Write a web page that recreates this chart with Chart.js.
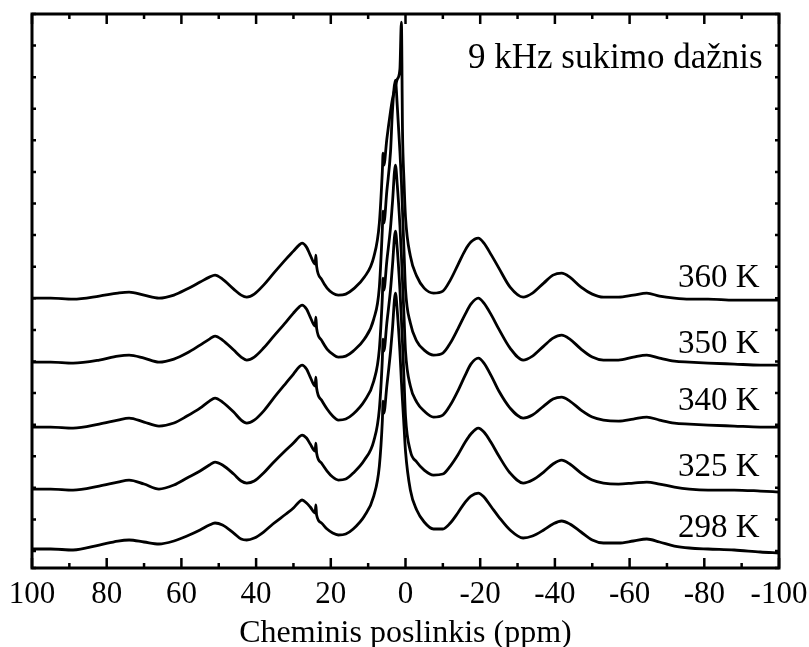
<!DOCTYPE html>
<html>
<head>
<meta charset="utf-8">
<script src="https://cdn.jsdelivr.net/npm/chart.js@4.4.0/dist/chart.umd.min.js"></script>
<style>
  html, body { margin: 0; padding: 0; background: #fff; }
</style>
</head>
<body>
<canvas id="nmr_chart" width="809" height="647"></canvas>
<script>
// chemical shift grid (ppm), shared by all spectra
const shifts = [100, 95, 89, 82, 77, 74, 70, 66, 62, 58.5,
  55, 52.5, 51, 49, 46, 44, 42.5, 40.5, 38, 35.5,
  32, 30, 28.5, 27.7, 26.5, 25.5, 24.2, 24, 23.8, 22.5,
  21, 19.5, 18, 16, 14, 11, 8.5, 7, 6.2, 6,
  5.8, 5, 4, 3.5, 2.7, 2.2, 1.5, 1.1, 0.8, 0.4,
  0, -1.3, -3, -5, -7.5, -10, -12, -14, -16, -17.5,
  -19.5, -21, -23, -25, -28, -31.5, -34, -37, -39.5, -41.8,
  -44, -47, -50, -53, -57, -61, -64.6, -68, -72, -76,
  -81, -88, -95, -100];

// intensities (a.u.), already stacked
const s298 = [2, 2, 1, 6, 10, 11, 9, 7, 10, 15,
  21, 26, 28, 26, 18, 12, 11, 13, 19, 27,
  37, 43, 49, 51, 48, 44, 38, 46, 36, 28,
  22, 18, 16, 17, 22, 35, 55, 85, 130, 150,
  138, 165, 200, 222, 258, 240, 200, 170, 150, 125,
  100, 61, 41, 29, 22, 22, 28, 38, 49, 55,
  58, 54, 44, 34, 21, 13, 15, 21, 27, 30,
  27, 19, 11, 8, 8, 10, 12, 9, 5, 3,
  2, 1, -1, -2];
const s325 = [62, 62, 61, 65, 69, 71, 67, 62, 66, 73,
  80, 86, 89, 86, 77, 70, 68, 70, 78, 88,
  101, 108, 114, 116, 113, 107, 100, 108, 98, 88,
  80, 74, 71, 72, 78, 91, 110, 142, 192, 212,
  200, 228, 262, 285, 320, 302, 262, 232, 208, 172,
  135, 100, 89, 81, 76, 77, 85, 96, 109, 117,
  123, 119, 108, 95, 78, 68, 71, 79, 87, 91,
  87, 78, 71, 68, 67, 68, 69, 67, 64, 62,
  61, 61, 60, 59];
const s340 = [124, 124, 123, 127, 131, 133, 129, 125, 128, 135,
  143, 150, 153, 149, 139, 131, 128, 131, 140, 152,
  168, 177, 184, 186, 182, 174, 165, 174, 163, 151,
  142, 135, 131, 132, 137, 150, 170, 202, 254, 273,
  261, 290, 324, 348, 386, 366, 326, 296, 270, 235,
  200, 165, 149, 140, 134, 136, 146, 160, 176, 187,
  193, 188, 175, 160, 143, 133, 136, 145, 152, 154,
  150, 141, 134, 131, 130, 132, 134, 131, 128, 127,
  126, 125, 124, 124];
const s350 = [189, 189, 188, 191, 195, 196, 193, 189, 192, 198,
  206, 212, 215, 211, 201, 194, 191, 194, 203, 214,
  229, 238, 244, 246, 242, 234, 225, 234, 223, 211,
  202, 197, 194, 195, 200, 212, 232, 264, 322, 340,
  328, 360, 400, 440, 471, 445, 400, 370, 340, 300,
  262, 228, 210, 201, 196, 198, 208, 222, 237, 247,
  253, 248, 236, 222, 203, 191, 195, 205, 213, 216,
  212, 202, 194, 191, 191, 194, 196, 193, 190, 189,
  188, 187, 186, 186];
const s360 = [253, 253, 252, 255, 258, 259, 256, 253, 256, 262,
  269, 274, 276, 272, 262, 256, 254, 257, 266, 277,
  292, 300, 306, 308, 304, 296, 287, 296, 285, 272,
  263, 258, 256, 257, 262, 274, 294, 328, 380, 398,
  386, 412, 440, 452, 465, 472, 482, 529, 420, 370,
  334, 295, 275, 263, 258, 260, 271, 286, 301, 309,
  313, 308, 296, 283, 264, 254, 258, 268, 276, 278,
  274, 264, 257, 254, 254, 256, 258, 255, 253, 252,
  252, 251, 251, 251];

const spectra = [s298, s325, s340, s350, s360];
const temps = ["298 K", "325 K", "340 K", "350 K", "360 K"];
const tempLabelY = [14, 75, 141, 198, 264];
const tempLabelX = -94.8;
const note = "9 kHz sukimo dažnis";
const noteX = -95.6, noteY = 483;

const xMajor = [100, 80, 60, 40, 20, 0, -20, -40, -60, -80, -100];
const xMinor = [90, 70, 50, 30, 10, -10, -30, -50, -70, -90];

const serif = "'Liberation Serif', 'Times New Roman', serif";

const frameTicks = {
    id: "frameTicks",
    afterDraw(chart) {
        const {ctx, chartArea: a, scales: {x, y}} = chart;
        ctx.save();
        ctx.strokeStyle = "#000";
        ctx.lineWidth = 3;
        ctx.strokeRect(a.left, a.top, a.right - a.left, a.bottom - a.top);
        ctx.lineWidth = 2.5;
        ctx.beginPath();
        xMajor.forEach(v => {
            const px = x.getPixelForValue(v);
            ctx.moveTo(px, a.bottom); ctx.lineTo(px, a.bottom - 10);
            ctx.moveTo(px, a.top); ctx.lineTo(px, a.top + 10);
        });
        xMinor.forEach(v => {
            const px = x.getPixelForValue(v);
            ctx.moveTo(px, a.bottom); ctx.lineTo(px, a.bottom - 5);
            ctx.moveTo(px, a.top); ctx.lineTo(px, a.top + 5);
        });
        y.ticks.forEach(t => {
            const py = y.getPixelForValue(t.value);
            ctx.moveTo(a.left, py); ctx.lineTo(a.left + 4, py);
            ctx.moveTo(a.right, py); ctx.lineTo(a.right - 4, py);
        });
        ctx.stroke();

        ctx.fillStyle = "#000";
        ctx.textAlign = "right";
        ctx.textBaseline = "alphabetic";
        ctx.font = "33px " + serif;
        temps.forEach((t, i) => {
            ctx.fillText(t, x.getPixelForValue(tempLabelX), y.getPixelForValue(tempLabelY[i]));
        });
        ctx.font = "35px " + serif;
        ctx.fillText(note, x.getPixelForValue(noteX), y.getPixelForValue(noteY));
        ctx.restore();
    }
};

new Chart(document.getElementById("nmr_chart"), {
    type: "line",
    data: {
        datasets: spectra.map((s, i) => ({
            label: temps[i],
            data: shifts.map((v, k) => ({x: v, y: s[k]})),
            borderColor: "#000",
            borderWidth: 2.8,
            pointRadius: 0,
            fill: false,
            cubicInterpolationMode: "monotone"
        }))
    },
    options: {
        responsive: false,
        animation: false,
        layout: {padding: {left: 32, right: 30, top: 14, bottom: 0}},
        plugins: {legend: {display: false}, tooltip: {enabled: false}},
        scales: {
            x: {
                type: "linear",
                reverse: true,
                min: -100,
                max: 100,
                afterFit: s => { s.height = 79; s.paddingLeft = 0; s.paddingRight = 0; },
                grid: {display: false, drawTicks: false},
                border: {display: false},
                ticks: {
                    stepSize: 20,
                    autoSkip: false,
                    maxRotation: 0,
                    color: "#000",
                    padding: 8,
                    font: {family: serif, size: 31}
                },
                title: {
                    display: true,
                    text: "Cheminis poslinkis (ppm)",
                    color: "#000",
                    padding: {top: 0, bottom: -6},
                    font: {family: serif, size: 32}
                }
            },
            y: {
                type: "linear",
                min: -17,
                max: 537.2,
                afterFit: s => { s.width = 0; },
                grid: {display: false, drawTicks: false},
                border: {display: false},
                ticks: {display: false, stepSize: 31.6}
            }
        }
    },
    plugins: [frameTicks]
});
</script>
</body>
</html>
